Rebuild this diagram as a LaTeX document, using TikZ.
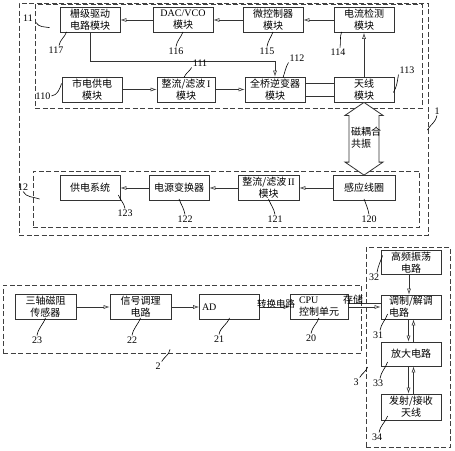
\documentclass[tikz,border=0pt]{standalone}
\usepackage{fontspec}
\setmainfont{Liberation Serif}
\newfontfamily\cjk{Noto Sans CJK SC}
\usetikzlibrary{arrows.meta}

\begin{document}
\begin{tikzpicture}[x=1pt,y=-1pt,
					font=\fontsize{10}{12}\selectfont,
					block/.style={draw=black!80,line width=0.8pt,minimum width=60pt,minimum height=25pt,inner sep=1pt,align=center,font=\cjk\fontsize{10}{12}\selectfont},
					group/.style={draw=black!75,line width=0.8pt,dash pattern=on 5pt off 2.5pt,inner sep=0pt},
					flow/.style={draw=black!80,line width=0.6pt,-{Latex[open,length=6pt,width=4pt]}},
					wire/.style={draw=black!80,line width=0.6pt},
					zh/.style={inner sep=1pt,font=\cjk\fontsize{10}{12}\selectfont},
					num/.style={inner sep=1pt},
					lead/.style={line width=0.6pt}]
	\useasboundingbox (0,0) rectangle (455,450);
	% dashed groups
	\node[group,minimum width=409pt,minimum height=232pt] (g1) at (223.5,119) {};
	\node[group,minimum width=387pt,minimum height=104pt] (g11) at (228.5,56) {};
	\node[group,minimum width=386pt,minimum height=56pt] (g12) at (226,199) {};
	\node[group,minimum width=358pt,minimum height=68pt] (g2) at (182,319) {};
	\node[group,minimum width=84pt,minimum height=200pt] (g3) at (408,347) {};
	% transmitter side
	\node[block] (gate) at (90,20) {栅级驱动\\电路模块};
	\node[block] (dac) at (183,20) {\textrm{DAC/VCO}\\模块};
	\node[block] (mcu) at (273,20) {微控制器\\模块};
	\node[block] (cur) at (364,20) {电流检测\\模块};
	\node[block] (mains) at (92,89.5) {市电供电\\模块};
	\node[block,minimum width=58pt] (rect1) at (186,89.5) {整流/滤波\,\textrm{I}\\模块};
	\node[block] (fb) at (275,89.5) {全桥逆变器\\模块};
	\node[block] (ant) at (364,89.5) {天线\\模块};
	% receiver side
	\node[block] (sup) at (90,188) {供电系统};
	\node[block] (psu) at (179,188) {电源变换器};
	\node[block,minimum width=61pt] (rect2) at (268.5,188) {整流/滤波\,\textrm{II}\\模块};
	\node[block,minimum width=62pt] (ind) at (364,188) {感应线圈};
	% sensor unit
	\node[block,minimum width=61pt] (sens) at (45.5,307) {三轴磁阻\\传感器};
	\node[block,minimum width=61pt] (cond) at (140.5,307) {信号调理\\电路};
	\node[block,text width=55pt,align=left] (ad) at (229.5,307) {\textrm{AD}};
	\node[block,minimum width=58pt,align=left] (cpu) at (319,307) {\textrm{CPU}\\控制单元};
	% radio unit
	\node[block,minimum height=21pt] (osc) at (411,262.5) {高频振荡\\电路};
	\node[block,minimum height=24pt,align=left] (mod) at (411,307) {调制/解调\\电路};
	\node[block,minimum height=24pt] (amp) at (411,354) {放大电路};
	\node[block,minimum height=26pt] (tx) at (411,407) {发射/接收\\天线};

	\draw[flow] (cur.west) -- (mcu.east);
	\draw[flow] (mcu.west) -- (dac.east);
	\draw[flow] (dac.west) -- (gate.east);
	\draw[flow] (gate.south) -- ++(0,28) -| (fb.north);
	\draw[flow] (mains.east) -- (rect1.west);
	\draw[flow] (rect1.east) -- (fb.west);
	\draw[wire] ([yshift=6.5pt]fb.east) -- ([yshift=6.5pt]ant.west);
	\draw[wire] ([yshift=-6.5pt]fb.east) -- ([yshift=-6.5pt]ant.west);
	\draw[flow] (ant.north) -- (cur.south);
	\draw[flow] (ind.west) -- (rect2.east);
	\draw[flow] (rect2.west) -- (psu.east);
	\draw[flow] (psu.west) -- (sup.east);
	\draw[flow] (sens.east) -- (cond.west);
	\draw[flow] (cond.east) -- (ad.west);
	\draw[flow] (ad.east) -- (cpu.west);
	\draw[wire] ([yshift=4pt]cpu.east) -- ([yshift=4pt]mod.west);
	\draw[flow] (cpu.east) -- (mod.west);
	\draw[flow] ([xshift=-2pt]osc.south) -- ([xshift=-2pt]mod.north);
	\draw[flow] ([xshift=-2.5pt]mod.south) -- ([xshift=-2.5pt]amp.north);
	\draw[flow] ([xshift=2.5pt]amp.north) -- ([xshift=2.5pt]mod.south);
	\draw[flow] ([xshift=-2.5pt]amp.south) -- ([xshift=-2.5pt]tx.north);
	\draw[flow] ([xshift=2.5pt]tx.north) -- ([xshift=2.5pt]amp.south);
	% coupling arrow
	\draw[draw=black!80,line width=0.8pt,fill=white] (ant.south) -- ++(19,13) -- ++(-4,0)
		-- ([shift={(15pt,13pt)}]ind.north) -- ++(4,0) -- (ind.north) -- ++(-19,-13) -- ++(4,0)
		-- ([shift={(-15pt,-13pt)}]ant.south) -- ++(-4,0) -- cycle;
	\node[zh,align=left] (mag) at (366,138) {磁耦合\\共振};
	\node[zh,font=\cjk\fontsize{9.5}{11}\selectfont] (conv) at (276,304) {转换电路};
	\node[zh] (store) at (353,300) {存储};

	% reference numbers
	\node[num] (l11) at (28,18) {11};
	\node[num] (l117) at (56,50) {117};
	\node[num] (l116) at (176,51) {116};
	\node[num] (l115) at (267,51) {115};
	\node[num] (l114) at (338,52) {114};
	\node[num] (l111) at (200,63) {111};
	\node[num] (l112) at (297,58) {112};
	\node[num] (l113) at (407,70) {113};
	\node[num] (l110) at (43,96) {110};
	\node[num] (l1) at (437,111) {1};
	\node[num] (l12) at (23,187) {12};
	\node[num] (l123) at (125,213) {123};
	\node[num] (l122) at (185,219) {122};
	\node[num] (l121) at (275,219) {121};
	\node[num] (l120) at (369,219) {120};
	\node[num] (l2) at (158,366) {2};
	\node[num] (l23) at (37,340) {23};
	\node[num] (l22) at (132,340) {22};
	\node[num] (l21) at (219,339) {21};
	\node[num] (l20) at (311,338) {20};
	\node[num] (l32) at (374,277) {32};
	\node[num] (l31) at (378,335) {31};
	\node[num] (l33) at (378,383) {33};
	\node[num] (l34) at (377,437) {34};
	\node[num] (l3) at (356,382) {3};

	\draw[lead] ([xshift=2pt]l11.south east) to[out=-60,in=170] ([shift={(15pt,-24pt)}]g11.north west);
	\draw[lead] ([xshift=3pt]l117.north) to[out=80,in=-110] ([shift={(7pt,1pt)}]gate.south west);
	\draw[lead] (l116.north) to[out=80,in=-110] ([yshift=1pt]dac.south);
	\draw[lead] (l115.north) to[out=80,in=-110] ([yshift=1pt]mcu.south);
	\draw[lead] ([xshift=2pt]l114.north) to[out=80,in=-110] ([shift={(8pt,1pt)}]cur.south west);
	\draw[lead] (l111.south west) to[out=-120,in=70] ([shift={(-2pt,-1pt)}]rect1.north);
	\draw[lead] (l112.south west) to[out=-120,in=70] ([shift={(8pt,-1pt)}]fb.north);
	\draw[lead] (l113.south west) to[out=-100,in=60] ([shift={(-1pt,-3pt)}]ant.east);
	\draw[lead] (l110.east) to[out=10,in=-110] ([yshift=6pt]mains.west);
	\draw[lead] (l1.south) to[out=-100,in=60] ([shift={(-1pt,-11pt)}]g1.east);
	\draw[lead] (l12.south) to[out=-60,in=160] ([xshift=7pt]g12.west);
	\draw[lead] (l123.north) to[out=100,in=-70] ([shift={(-2pt,-7pt)}]sup.east);
	\draw[lead] (l122.north) to[out=100,in=-70] ([yshift=2pt]psu.south);
	\draw[lead] (l121.north) to[out=100,in=-70] ([yshift=2pt]rect2.south);
	\draw[lead] (l120.north) to[out=100,in=-70] ([yshift=2pt]ind.south);
	\draw[lead] (l2.north east) to[out=60,in=-100] ([shift={(-12pt,4pt)}]g2.south);
	\draw[lead] (l23.north) to[out=80,in=-110] ([yshift=2pt]sens.south);
	\draw[lead] (l22.north) to[out=80,in=-110] ([yshift=2pt]cond.south);
	\draw[lead] (l21.north) to[out=80,in=-110] ([yshift=2pt]ad.south);
	\draw[lead] (l20.north) to[out=80,in=-110] ([yshift=2pt]cpu.south);
	\draw[lead] ([xshift=3pt]l32.north) to[out=80,in=-110] ([shift={(2pt,7pt)}]osc.west);
	\draw[lead] ([xshift=2pt]l31.north) to[out=80,in=-110] ([shift={(7pt,-7pt)}]mod.west);
	\draw[lead] ([xshift=2pt]l33.north) to[out=80,in=-110] ([shift={(7pt,-8pt)}]amp.west);
	\draw[lead] ([xshift=2pt]l34.north) to[out=80,in=-110] ([shift={(7pt,-9pt)}]tx.west);
	\draw[lead] (l3.north east) to[out=60,in=-110] ([shift={(2pt,-20pt)}]g3.west);
\end{tikzpicture}
\end{document}
